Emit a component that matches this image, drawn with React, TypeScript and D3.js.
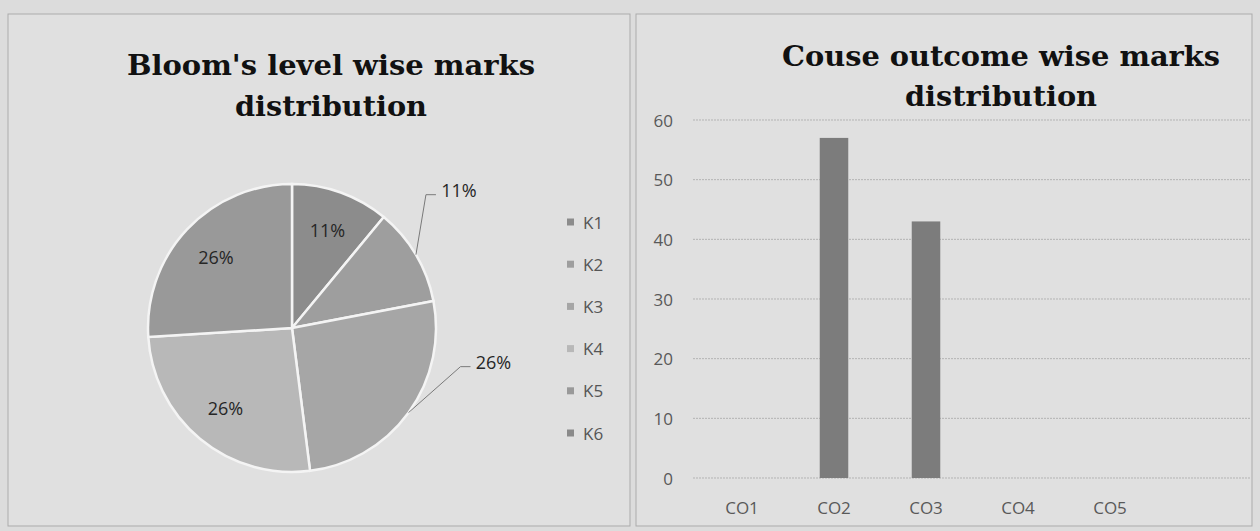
import React from "react";
import * as d3 from "d3";

const pieLabels = ["K1", "K2", "K3", "K4", "K5", "K6"];
const pieValues = [11, 11, 26, 26, 26, 0];
const pieColors = ["#8c8c8c", "#9e9e9e", "#a6a6a6", "#b8b8b8", "#999999", "#8a8a8a"];
const pieLabelText = ["11%", "11%", "26%", "26%", "26%", ""];

const barCategories = ["CO1", "CO2", "CO3", "CO4", "CO5", ""];
const barValues = [0, 57, 43, 0, 0, 0];
const yTicks = [0, 10, 20, 30, 40, 50, 60];

const W = 1260;
const H = 531;
const labelFont = "'Open Sans', 'Noto Sans', sans-serif";
const titleFont = "'DejaVu Serif', serif";

export default function App() {
  // Pie
  const cx = 292, cy = 328, r = 144;
  const pie = d3.pie<number>().sort(null).value((d) => d).startAngle(0).endAngle(2 * Math.PI);
  const arcs = pie(pieValues);
  const arc = d3.arc<d3.PieArcDatum<number>>().innerRadius(0).outerRadius(r);
  const labelArc = d3.arc<d3.PieArcDatum<number>>().innerRadius(0).outerRadius(r * 1.45);
  // which labels are placed outside, and their offsets from the edge point
  const outside: Record<number, [number, number]> = { 1: [43, -65], 2: [85, -51] };

  // Bar
  const x = d3.scaleBand<string>().domain(barCategories).range([696, 1248]).paddingInner(0.69).paddingOuter(0.345);
  const y = d3.scaleLinear().domain([0, 60]).range([478, 120]);

  return (
    <svg width={W} height={H} style={{ position: "absolute", left: 0, top: 0 }}>
      <rect x={0} y={0} width={W} height={H} fill="#dcdcdc" />
      <rect x={8} y={14} width={622} height={512} fill="#e0e0e0" stroke="#ababab" strokeWidth={1} />
      <rect x={636} y={14} width={616} height={512} fill="#e0e0e0" stroke="#ababab" strokeWidth={1} />

      {/* Left title */}
      <text x={331} y={75} textAnchor="middle" fontFamily={titleFont} fontWeight="bold" fontSize={27} fill="#111" textLength={408} lengthAdjust="spacingAndGlyphs">
        Bloom's level wise marks
      </text>
      <text x={331} y={116} textAnchor="middle" fontFamily={titleFont} fontWeight="bold" fontSize={27} fill="#111" textLength={192} lengthAdjust="spacingAndGlyphs">
        distribution
      </text>

      {/* Pie */}
      <g transform={`translate(${cx},${cy})`}>
        {arcs.map((a, i) =>
          a.value > 0 ? (
            <path key={i} d={arc(a) || ""} fill={pieColors[i]} stroke="#f4f4f4" strokeWidth={2.5} />
          ) : null
        )}
        {arcs.map((a, i) => {
          if (a.value <= 0) return null;
          const mid = (a.startAngle + a.endAngle) / 2;
          if (outside[i]) {
            const ex = r * Math.sin(mid), ey = -r * Math.cos(mid);
            const lx = ex + outside[i][0], ly = ey + outside[i][1];
            const left = lx - 19;
            return (
              <g key={"l" + i}>
                <polyline points={`${ex},${ey} ${left - 14},${ly + 5} ${left - 4},${ly + 5}`} fill="none" stroke="#7a7a7a" strokeWidth={1} />
                <text x={lx} y={ly} textAnchor="middle" dominantBaseline="central" fontFamily={labelFont} fontSize={18} fill="#262626">
                  {pieLabelText[i]}
                </text>
              </g>
            );
          }
          const [lx, ly] = labelArc.centroid(a);
          return (
            <text key={"l" + i} x={lx} y={ly} textAnchor="middle" dominantBaseline="central" fontFamily={labelFont} fontSize={18} fill="#262626">
              {pieLabelText[i]}
            </text>
          );
        })}
      </g>

      {/* Legend */}
      {pieLabels.map((k, i) => (
        <g key={k} transform={`translate(567,${222 + i * 42.2})`}>
          <rect x={0} y={-3.5} width={7} height={7} fill={pieColors[i]} />
          <text x={16} y={0} dominantBaseline="central" fontFamily={labelFont} fontSize={17} fill="#555">
            {k}
          </text>
        </g>
      ))}

      {/* Right title */}
      <text x={1001} y={66} textAnchor="middle" fontFamily={titleFont} fontWeight="bold" fontSize={27} fill="#111" textLength={438} lengthAdjust="spacingAndGlyphs">
        Couse outcome wise marks
      </text>
      <text x={1001} y={106} textAnchor="middle" fontFamily={titleFont} fontWeight="bold" fontSize={27} fill="#111" textLength={192} lengthAdjust="spacingAndGlyphs">
        distribution
      </text>

      {/* Gridlines and y labels */}
      {yTicks.map((t) => (
        <g key={t}>
          <line x1={693} x2={1250} y1={y(t)} y2={y(t)} stroke="#b3b3b3" strokeWidth={1} strokeDasharray="2,1" />
          <text x={673} y={y(t)} textAnchor="end" dominantBaseline="central" fontFamily={labelFont} fontSize={17} fill="#595959">
            {t}
          </text>
        </g>
      ))}

      {/* Bars */}
      {barCategories.map((c, i) =>
        barValues[i] > 0 ? (
          <rect key={"b" + i} x={x(c)} y={y(barValues[i])} width={x.bandwidth()} height={y(0) - y(barValues[i])} fill="#7c7c7c" />
        ) : null
      )}

      {/* X labels */}
      {barCategories.map((c, i) => (
        <text key={"x" + i} x={(x(c) || 0) + x.bandwidth() / 2} y={507} textAnchor="middle" dominantBaseline="central" fontFamily={labelFont} fontSize={17} fill="#595959">
          {c}
        </text>
      ))}
    </svg>
  );
}
